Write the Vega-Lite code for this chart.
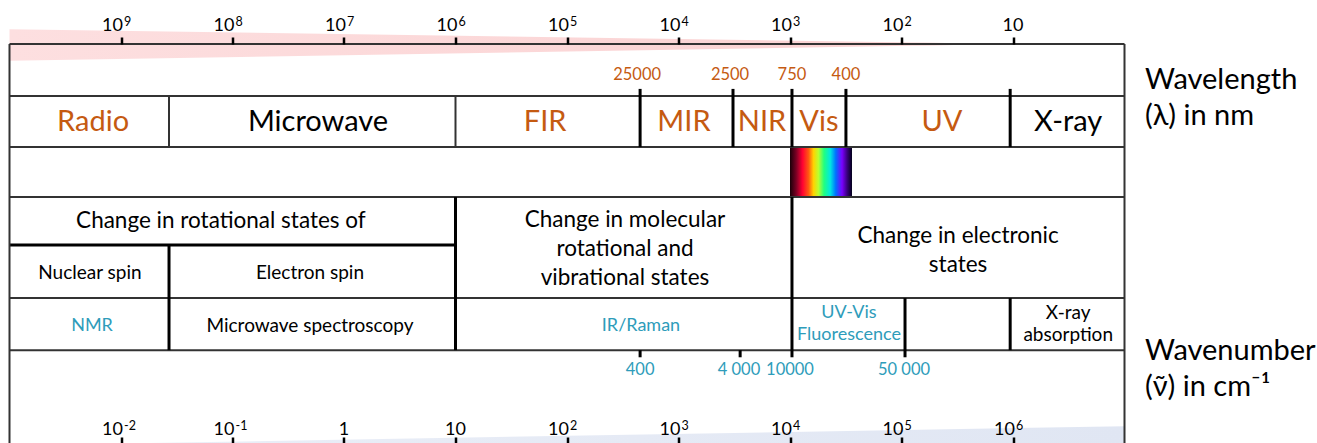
{
  "$schema": "https://vega.github.io/schema/vega-lite/v6.json",
  "width": 1115,
  "height": 399,
  "autosize": {"type": "none"},
  "padding": {"left": 9.5, "top": 44, "right": 192.5, "bottom": 0},
  "background": "white",
  "config": {"font": "Lato", "view": {"stroke": null}},
  "datasets": {
    "wedgeTop": [
      {"lam": 1e10, "row": -0.29, "row2": 0.33},
      {"lam": 10, "row": 0, "row2": 0}
    ],
    "wedgeBottom": [
      {"lam": 5.5e8, "row": 7.82, "row2": 7.95},
      {"lam": 1, "row": 7.49, "row2": 7.95}
    ],
    "spectrum": [{"lam": 1000, "lam2": 278, "row": 2.02, "row2": 3}],
    "hlines": [
      {"lam": 1e10, "lam2": 1, "row": 0},
      {"lam": 1e10, "lam2": 1, "row": 1.02},
      {"lam": 1e10, "lam2": 1, "row": 2.02},
      {"lam": 1e10, "lam2": 1, "row": 3},
      {"lam": 1e10, "lam2": 1, "row": 4.98},
      {"lam": 1e10, "lam2": 1, "row": 6}
    ],
    "hthick": [{"lam": 1e10, "lam2": 1e6, "row": 3.94}],
    "vthin": [
      {"lam": 1e10, "row": 0, "row2": 7.95},
      {"lam": 1, "row": 0, "row2": 7.95},
      {"lam": 3.71e8, "row": 1.02, "row2": 2.02},
      {"lam": 1e6, "row": 1.02, "row2": 2.02}
    ],
    "vthick": [
      {"lam": 3.71e8, "row": 3.94, "row2": 6},
      {"lam": 1e6, "row": 3, "row2": 6},
      {"lam": 22100, "row": 0.88, "row2": 2.02},
      {"lam": 3245, "row": 0.88, "row2": 2.02},
      {"lam": 960, "row": 0.88, "row2": 2.02},
      {"lam": 960, "row": 3, "row2": 6.14},
      {"lam": 315, "row": 0.88, "row2": 2.02},
      {"lam": 93, "row": 4.98, "row2": 6.14},
      {"lam": 10.6, "row": 0.88, "row2": 2.02},
      {"lam": 10.6, "row": 4.98, "row2": 6},
      {"lam": 22100, "row": 6, "row2": 6.14},
      {"lam": 2800, "row": 6, "row2": 6.14}
    ],
    "powerLabels": [
      {"lam": 1e9, "row": -0.255, "base": "10", "exp": "9"},
      {"lam": 1e8, "row": -0.255, "base": "10", "exp": "8"},
      {"lam": 1e7, "row": -0.255, "base": "10", "exp": "7"},
      {"lam": 1e6, "row": -0.255, "base": "10", "exp": "6"},
      {"lam": 1e5, "row": -0.255, "base": "10", "exp": "5"},
      {"lam": 1e4, "row": -0.255, "base": "10", "exp": "4"},
      {"lam": 1e3, "row": -0.255, "base": "10", "exp": "3"},
      {"lam": 1e2, "row": -0.255, "base": "10", "exp": "2"},
      {"lam": 1e9, "row": 7.67, "base": "10", "exp": "-2"},
      {"lam": 1e8, "row": 7.67, "base": "10", "exp": "-1"},
      {"lam": 1e5, "row": 7.67, "base": "10", "exp": "2"},
      {"lam": 1e4, "row": 7.67, "base": "10", "exp": "3"},
      {"lam": 1e3, "row": 7.67, "base": "10", "exp": "4"},
      {"lam": 1e2, "row": 7.67, "base": "10", "exp": "5"},
      {"lam": 10, "row": 7.67, "base": "10", "exp": "6"}
    ],
    "plainLabels": [
      {"lam": 10, "row": -0.255, "text": "10"},
      {"lam": 1e7, "row": 7.67, "text": "1"},
      {"lam": 1e6, "row": 7.67, "text": "10"}
    ],
    "bandOrange": [
      {"lam": 1.78e9, "row": 1.52, "text": "Radio"},
      {"lam": 1.57e5, "row": 1.52, "text": "FIR"},
      {"lam": 8930, "row": 1.52, "text": "MIR"},
      {"lam": 1783, "row": 1.52, "text": "NIR"},
      {"lam": 550, "row": 1.52, "text": "Vis"},
      {"lam": 43.4, "row": 1.52, "text": "UV"}
    ],
    "bandBlack": [
      {"lam": 1.71e7, "row": 1.52, "text": "Microwave"},
      {"lam": 3.2, "row": 1.52, "text": "X-ray"}
    ],
    "wavelengths": [
      {"lam": 23500, "row": 0.6, "text": "25000"},
      {"lam": 3450, "row": 0.6, "text": "2500"},
      {"lam": 960, "row": 0.6, "text": "750"},
      {"lam": 315, "row": 0.6, "text": "400"}
    ],
    "heads": [
      {"lam": 1.27e8, "row": 3.47, "text": "Change in rotational states of"},
      {"lam": 30200, "row": 3.45, "text": "Change in molecular\nrotational and\nvibrational states"},
      {"lam": 31.1, "row": 3.76, "text": "Change in electronic\nstates"}
    ],
    "subs": [
      {"lam": 1.9e9, "row": 4.49, "text": "Nuclear spin"},
      {"lam": 2.02e7, "row": 4.49, "text": "Electron spin"},
      {"lam": 2.02e7, "row": 5.53, "text": "Microwave spectroscopy"},
      {"lam": 3.2, "row": 5.27, "text": "X-ray\nabsorption"}
    ],
    "techs": [
      {"lam": 1.82e9, "row": 5.53, "text": "NMR"},
      {"lam": 21700, "row": 5.53, "text": "IR/Raman"},
      {"lam": 296, "row": 5.27, "text": "UV-Vis\nFluorescence"}
    ],
    "wavenumbers": [
      {"lam": 22100, "row": 6.39, "text": "400"},
      {"lam": 2870, "row": 6.39, "text": "4 000"},
      {"lam": 1000, "row": 6.39, "text": "10000"},
      {"lam": 95, "row": 6.39, "text": "50 000"}
    ],
    "side": [
      {"lam": 0.655, "row": 0.71, "text": "Wavelength\n(λ) in nm"},
      {"lam": 0.655, "row": 6.02, "text": "Wavenumber\n(ν̃) in cm⁻¹"}
    ]
  },
  "encoding": {
    "x": {"field": "lam", "type": "quantitative", "scale": {"type": "log", "domain": [1e10, 1], "nice": false, "zero": false}, "axis": null},
    "y": {"field": "row", "type": "quantitative", "scale": {"domain": [0, 7.82], "reverse": true, "nice": false, "zero": false}, "axis": null}
  },
  "resolve": {"axis": {"x": "independent"}},
  "layer": [
    {
      "data": {"name": "wedgeTop"},
      "mark": {"type": "area", "color": {"gradient": "linear", "x1": 0, "y1": 0, "x2": 1, "y2": 0, "stops": [{"offset": 0, "color": "#fddfe0"}, {"offset": 0.9, "color": "#fad2d2"}, {"offset": 1, "color": "#e07070"}]}},
      "encoding": {"y2": {"field": "row2"}}
    },
    {
      "data": {"name": "wedgeBottom"},
      "mark": {"type": "area", "color": {"gradient": "linear", "x1": 0, "y1": 0, "x2": 1, "y2": 0, "stops": [{"offset": 0, "color": "#eaeef7"}, {"offset": 1, "color": "#e0e6f3"}]}},
      "encoding": {
        "x": {
          "field": "lam", "type": "quantitative",
          "axis": {
            "orient": "bottom", "title": null, "grid": false, "domain": false, "labels": false,
            "values": [1e9, 1e8, 1e7, 1e6, 1e5, 1e4, 1e3, 1e2, 10],
            "tickSize": -6, "tickWidth": 2.5, "tickColor": "#000000", "zindex": 2
          }
        },
        "y2": {"field": "row2"}
      }
    },
    {
      "data": {"name": "spectrum"},
      "mark": {"type": "rect", "color": {"gradient": "linear", "x1": 0, "y1": 0, "x2": 1, "y2": 0, "stops": [
        {"offset": 0, "color": "#1a0008"},
        {"offset": 0.1, "color": "#7a0024"},
        {"offset": 0.2, "color": "#ff0033"},
        {"offset": 0.3, "color": "#ff5a10"},
        {"offset": 0.38, "color": "#ffd400"},
        {"offset": 0.46, "color": "#b8ff30"},
        {"offset": 0.55, "color": "#20ff80"},
        {"offset": 0.65, "color": "#00e8e0"},
        {"offset": 0.74, "color": "#0070ff"},
        {"offset": 0.84, "color": "#7a00ff"},
        {"offset": 0.92, "color": "#3a0080"},
        {"offset": 1, "color": "#000018"}
      ]}},
      "encoding": {"x2": {"field": "lam2"}, "y2": {"field": "row2"}}
    },
    {
      "data": {"name": "hlines"},
      "mark": {"type": "rule", "color": "#333333", "strokeWidth": 2},
      "encoding": {
        "x": {
          "field": "lam", "type": "quantitative",
          "axis": {
            "orient": "top", "title": null, "grid": false, "domain": false, "labels": false,
            "values": [1e9, 1e8, 1e7, 1e6, 1e5, 1e4, 1e3, 1e2, 10],
            "tickSize": 7, "tickWidth": 2.5, "tickColor": "#000000", "zindex": 2
          }
        },
        "x2": {"field": "lam2"}
      }
    },
    {
      "data": {"name": "hthick"},
      "mark": {"type": "rule", "color": "#000000", "strokeWidth": 3},
      "encoding": {"x2": {"field": "lam2"}}
    },
    {
      "data": {"name": "vthin"},
      "mark": {"type": "rule", "color": "#333333", "strokeWidth": 2},
      "encoding": {"y2": {"field": "row2"}}
    },
    {
      "data": {"name": "vthick"},
      "mark": {"type": "rule", "color": "#000000", "strokeWidth": 3},
      "encoding": {"y2": {"field": "row2"}}
    },
    {
      "data": {"name": "powerLabels"},
      "mark": {"type": "text", "color": "#000000", "fontSize": 18, "baseline": "alphabetic", "align": "right", "dx": 2},
      "encoding": {"text": {"field": "base"}}
    },
    {
      "data": {"name": "powerLabels"},
      "mark": {"type": "text", "color": "#000000", "fontSize": 12.5, "baseline": "alphabetic", "align": "left", "dx": 3, "dy": -5},
      "encoding": {"text": {"field": "exp"}}
    },
    {
      "data": {"name": "plainLabels"},
      "mark": {"type": "text", "color": "#000000", "fontSize": 18, "baseline": "alphabetic", "align": "center"},
      "encoding": {"text": {"field": "text"}}
    },
    {
      "data": {"name": "bandOrange"},
      "mark": {"type": "text", "color": "#c55a11", "fontSize": 29, "baseline": "middle", "align": "center"},
      "encoding": {"text": {"field": "text"}}
    },
    {
      "data": {"name": "bandBlack"},
      "mark": {"type": "text", "color": "#000000", "fontSize": 29, "baseline": "middle", "align": "center"},
      "encoding": {"text": {"field": "text"}}
    },
    {
      "data": {"name": "wavelengths"},
      "mark": {"type": "text", "color": "#c55a11", "fontSize": 16.5, "baseline": "middle", "align": "center"},
      "encoding": {"text": {"field": "text"}}
    },
    {
      "data": {"name": "heads"},
      "mark": {"type": "text", "color": "#000000", "fontSize": 22.5, "baseline": "middle", "align": "center", "lineBreak": "\n", "lineHeight": 29},
      "encoding": {"text": {"field": "text"}}
    },
    {
      "data": {"name": "subs"},
      "mark": {"type": "text", "color": "#000000", "fontSize": 19, "baseline": "middle", "align": "center", "lineBreak": "\n", "lineHeight": 22},
      "encoding": {"text": {"field": "text"}}
    },
    {
      "data": {"name": "techs"},
      "mark": {"type": "text", "color": "#2e9cba", "fontSize": 18, "baseline": "middle", "align": "center", "lineBreak": "\n", "lineHeight": 22},
      "encoding": {"text": {"field": "text"}}
    },
    {
      "data": {"name": "wavenumbers"},
      "mark": {"type": "text", "color": "#2e9cba", "fontSize": 16.5, "baseline": "middle", "align": "center"},
      "encoding": {"text": {"field": "text"}}
    },
    {
      "data": {"name": "side"},
      "mark": {"type": "text", "color": "#000000", "fontSize": 29, "baseline": "middle", "align": "left", "lineBreak": "\n", "lineHeight": 36},
      "encoding": {"text": {"field": "text"}}
    }
  ]
}
